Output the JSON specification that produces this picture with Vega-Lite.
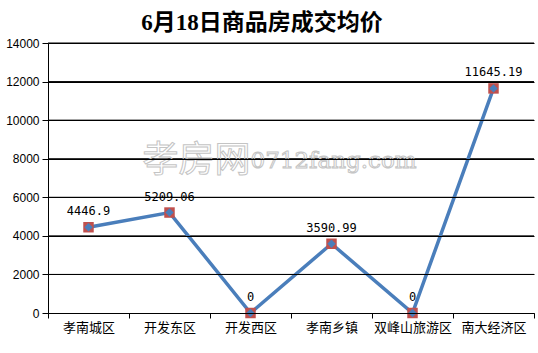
{
  "$schema": "https://vega.github.io/schema/vega-lite/v6.json",
  "width": 486,
  "height": 270,
  "autosize": {"type": "none"},
  "padding": {"left": 48, "top": 43, "right": 4, "bottom": 40},
  "background": "white",
  "title": {
    "text": "6月18日商品房成交均价",
    "font": "Liberation Serif, Noto Sans CJK SC",
    "fontSize": 23,
    "fontWeight": "bold",
    "color": "black",
    "anchor": "middle",
    "dx": -29,
    "offset": 2
  },
  "data": {
    "values": [
      {"区域": "孝南城区", "均价": 4446.9},
      {"区域": "开发东区", "均价": 5209.06},
      {"区域": "开发西区", "均价": 0},
      {"区域": "孝南乡镇", "均价": 3590.99},
      {"区域": "双峰山旅游区", "均价": 0},
      {"区域": "南大经济区", "均价": 11645.19}
    ]
  },
  "resolve": {"axis": {"y": "independent"}},
  "layer": [
    {
      "data": {
        "values": [
          {"网格": 2000}, {"网格": 4000}, {"网格": 6000}, {"网格": 8000},
          {"网格": 10000}, {"网格": 12000}, {"网格": 14000}
        ]
      },
      "mark": {"type": "rule", "color": "#000000", "strokeWidth": 1, "opacity": 1},
      "encoding": {
        "y": {"field": "网格", "type": "quantitative", "scale": {"domain": [0, 14000], "nice": false}, "axis": null}
      }
    },
    {
      "encoding": {
        "x": {
          "field": "区域",
          "type": "nominal",
          "sort": null,
          "scale": {
            "type": "band",
            "paddingInner": 0,
            "paddingOuter": 0,
            "domain": ["孝南城区", "开发东区", "开发西区", "孝南乡镇", "双峰山旅游区", "南大经济区"]
          },
          "axis": {
            "title": null,
            "labelAngle": 0,
            "tickBand": "extent",
            "tickSize": 5,
            "tickColor": "black",
            "domainColor": "black",
            "labelFont": "Noto Sans CJK SC",
            "labelFontSize": 13,
            "labelColor": "black",
            "labelPadding": 3,
            "grid": false
          }
        },
        "y": {
          "field": "均价",
          "type": "quantitative",
          "scale": {"domain": [0, 14000], "nice": false},
          "axis": {
            "orient": "left",
            "title": null,
            "grid": true,
            "gridColor": "#000000",
            "gridOpacity": 1,
            "gridWidth": 1,
            "zindex": 1,
            "tickCount": 7,
            "format": "d",
            "tickSize": 6,
            "tickColor": "black",
            "domainColor": "black",
            "labelFont": "Liberation Sans",
            "labelFontSize": 12,
            "labelColor": "black",
            "labelPadding": 3
          }
        }
      },
      "layer": [
        {
          "data": {
            "values": [
              {"区域": "开发西区", "均价": 7900, "文字": "孝房网"}
            ]
          },
          "mark": {
            "type": "text",
            "align": "right",
            "baseline": "middle",
            "font": "Noto Sans CJK SC",
            "fontSize": 36,
            "fillOpacity": 0,
            "stroke": "#c4c4c4",
            "strokeWidth": 1
          },
          "encoding": {"text": {"field": "文字", "type": "nominal"}}
        },
        {
          "data": {
            "values": [
              {"区域": "开发西区", "均价": 7900, "文字": "0712fang.com"}
            ]
          },
          "mark": {
            "type": "text",
            "align": "left",
            "baseline": "middle",
            "font": "DejaVu Serif",
            "fontSize": 23,
            "fillOpacity": 0,
            "stroke": "#c4c4c4",
            "strokeWidth": 1
          },
          "encoding": {"text": {"field": "文字", "type": "nominal"}}
        },
        {
          "mark": {"type": "line", "color": "#4a7ebb", "strokeWidth": 3.5}
        },
        {
          "mark": {"type": "point", "shape": "square", "filled": true, "size": 110, "color": "#c0504d", "opacity": 1}
        },
        {
          "mark": {"type": "point", "shape": "diamond", "filled": true, "size": 70, "color": "#4a7ebb", "opacity": 1}
        },
        {
          "mark": {
            "type": "text",
            "baseline": "middle",
            "dy": -16,
            "font": "DejaVu Sans Mono",
            "fontSize": 12,
            "color": "black"
          },
          "encoding": {"text": {"field": "均价", "type": "nominal"}}
        }
      ]
    }
  ],
  "config": {
    "view": {"stroke": null},
    "axis": {"domainWidth": 1, "tickWidth": 1}
  }
}
